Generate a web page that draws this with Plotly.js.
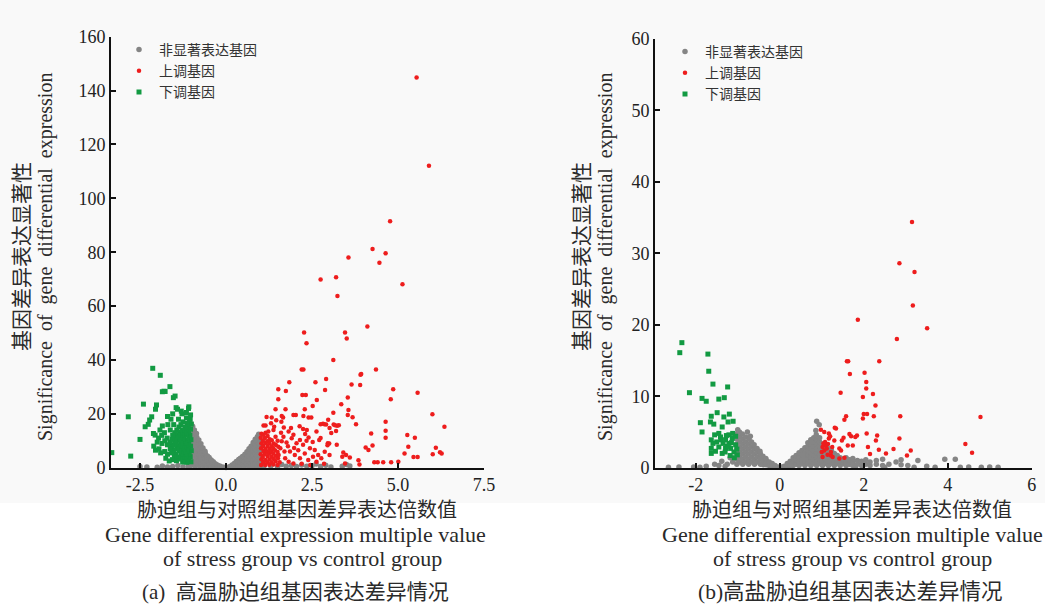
<!DOCTYPE html>
<html><head><meta charset="utf-8">
<script src="https://cdn.plot.ly/plotly-3.0.1.min.js"></script>
<style>html,body{margin:0;padding:0;background:#fff}</style>
</head><body><div id="chart" style="width:1045px;height:605px"></div>
<script>
// ---------- data ----------
const legendNames = ['非显著表达基因', '上调基因', '下调基因'];

// Panel (a): high temperature stress
const grayA = [
[-1.02,0.8],[-1.02,2.8],[-1.03,4.8],[-1.01,6.8],[-1.02,8.8],[-1.03,10.8],[-1.02,12.8],[-1.01,14.8],[-1.01,16.3],
[-0.96,1.8],[-0.97,3.8],[-0.95,5.8],[-0.96,7.8],[-0.97,9.8],[-0.96,11.8],[-0.95,13.8],[-0.97,15.4],
[-0.90,0.6],[-0.91,2.6],[-0.89,4.6],[-0.90,6.6],[-0.91,8.6],[-0.90,10.6],[-0.91,12.6],[-0.92,14.0],
[-0.84,1.5],[-0.85,3.5],[-0.83,5.5],[-0.84,7.5],[-0.85,9.5],[-0.85,11.3],[-0.86,12.7],
[-0.78,0.7],[-0.79,2.7],[-0.77,4.7],[-0.78,6.7],[-0.78,8.7],[-0.79,10.3],
[-0.72,1.6],[-0.73,3.6],[-0.71,5.6],[-0.72,7.6],[-0.73,8.9],
[-0.66,0.6],[-0.67,2.6],[-0.65,4.6],[-0.66,6.3],[-0.67,7.3],
[-0.60,1.5],[-0.61,3.5],[-0.60,5.2],[-0.61,6.1],
[-0.54,0.6],[-0.55,2.6],[-0.54,4.3],
[-0.48,1.4],[-0.49,3.1],[-0.49,3.8],
[-0.42,0.5],[-0.43,2.1],[-0.43,2.9],
[-0.36,1.2],[-0.37,2.2],[-0.30,0.5],[-0.31,1.5],[-0.24,0.3],[-0.25,1.0],
[-0.18,0.6],[-0.12,0.3],[-0.06,0.2],[0.0,0.1],
[0.06,0.2],[0.12,0.4],[0.18,0.3],[0.18,1.0],[0.24,0.6],[0.24,1.6],[0.30,0.4],[0.30,1.5],[0.30,2.3],
[0.36,0.9],[0.36,2.2],[0.37,3.0],[0.42,0.5],[0.42,2.0],[0.42,3.5],
[0.48,1.2],[0.48,2.8],[0.48,4.2],[0.54,0.6],[0.54,2.4],[0.54,4.0],[0.55,5.0],
[0.60,1.5],[0.60,3.3],[0.60,5.0],[0.61,5.9],
[0.66,0.6],[0.66,2.5],[0.66,4.4],[0.66,6.2],[0.67,7.0],
[0.72,1.5],[0.72,3.4],[0.72,5.3],[0.72,7.1],[0.73,8.0],
[0.78,0.6],[0.78,2.5],[0.78,4.4],[0.78,6.3],[0.78,8.2],[0.79,9.4],
[0.84,1.5],[0.84,3.4],[0.84,5.3],[0.84,7.2],[0.84,9.1],[0.85,10.6],
[0.90,0.6],[0.90,2.5],[0.90,4.4],[0.90,6.3],[0.90,8.2],[0.90,10.1],[0.91,11.5],
[0.96,1.5],[0.96,3.4],[0.96,5.3],[0.96,7.2],[0.96,9.1],[0.96,11.0],[0.95,12.4],
[1.00,0.6],[1.00,2.5],[1.00,4.4],[1.00,6.3],[1.00,8.2],[1.00,10.1],[0.99,12.0],
[1.10,0.4],[1.30,0.6],[1.50,0.3],[1.62,1.2],[1.75,0.5],[1.90,0.8],[2.05,0.4],[2.20,1.0],[2.35,0.5],
[2.50,0.7],[2.62,1.4],[2.75,0.4],[2.90,0.9],[3.05,0.3],[3.38,0.5],[3.50,1.2],[3.60,0.6],
[-1.10,0.5],[-1.25,0.3],[-1.40,0.8],[-1.55,0.4],[-1.70,0.3],[-1.85,0.6],[-2.00,0.2],[-2.30,0.3],[-2.50,0.4]
];
const redA = [
[1.02,1.0],[1.03,3.1],[1.01,5.0],[1.02,7.2],[1.03,9.0],[1.01,11.1],[1.03,12.6],
[1.08,2.1],[1.07,4.0],[1.09,6.2],[1.08,8.1],[1.07,10.0],[1.09,12.2],
[1.14,1.0],[1.15,2.9],[1.13,5.1],[1.15,7.0],[1.14,9.2],[1.13,11.0],[1.15,13.0],
[1.20,2.0],[1.21,4.2],[1.19,6.0],[1.21,8.1],[1.20,9.8],[1.21,11.8],
[1.26,1.1],[1.27,3.0],[1.25,5.2],[1.27,6.9],[1.26,9.1],[1.27,10.6],
[1.32,2.0],[1.33,4.1],[1.31,6.1],[1.33,8.0],[1.33,10.2],
[1.38,1.2],[1.39,3.2],[1.37,5.3],[1.38,7.1],[1.39,9.0],
[1.44,2.4],[1.45,4.4],[1.43,6.4],[1.45,8.4],[1.44,11.5],
[1.50,1.0],[1.51,3.5],[1.50,5.8],[1.52,7.8],[1.50,10.0],
[1.58,7.2],[1.53,4.7],[1.56,2.0],[1.62,9.8],[1.67,11.5],[1.72,3.5],[1.76,9.4],[1.70,6.0],[1.82,2.2],
[1.86,6.0],[1.91,10.9],[1.80,8.0],[1.96,1.6],[2.00,4.7],[2.05,9.1],[1.98,7.3],[2.10,6.5],[2.15,10.3],
[2.15,3.5],[2.24,8.5],[2.29,5.3],[2.20,1.5],[2.34,10.0],[2.39,2.9],[2.44,7.2],[2.40,11.2],[2.53,4.1],
[2.58,6.6],[2.52,9.5],[2.63,2.2],[2.68,4.7],[2.77,3.5],[2.87,5.9],[2.96,9.1],[3.01,4.7],[3.22,8.5],
[3.01,14.7],[2.63,13.4],[1.82,13.4],[1.96,12.2],[1.23,13.4],[1.38,14.0],[3.06,12.9],[2.30,12.5],
[1.60,13.0],[2.75,11.0],[2.85,1.5],[2.45,1.0],
[1.18,18.8],[1.33,18.6],[1.46,17.6],[1.66,18.6],[1.61,17.1],[2.97,17.8],[1.31,16.5],[1.40,15.2],
[1.09,15.7],[1.15,15.7],[1.68,14.9],[1.89,14.7],[2.14,15.4],[2.24,14.4],[2.35,14.0],[2.82,16.3],
[2.91,16.0],[3.13,16.0],[3.23,15.6],
[5.54,144.9],[5.90,112.1],[4.77,91.5],[4.26,81.2],[4.64,79.6],[4.46,76.1],[3.56,78.0],[2.75,69.9],
[3.20,70.7],[3.24,63.7],[5.13,68.1],[4.11,52.4],[2.27,50.2],[2.34,46.2],[3.46,50.2],[3.51,48.0],
[3.12,40.0],[2.20,36.5],[2.25,36.5],[4.36,36.5],[3.91,34.5],[3.93,34.8],[2.60,31.7],[2.91,32.9],
[1.84,31.7],[3.65,30.9],[3.90,30.7],[1.52,29.1],[1.74,28.5],[2.88,28.8],[4.86,29.1],[5.57,27.8],
[2.22,27.0],[2.32,27.0],[3.54,26.1],[1.52,25.4],[2.64,25.1],[4.79,25.4],[2.52,22.9],[2.29,21.7],
[1.73,21.7],[1.44,21.7],[3.56,21.4],[3.35,23.6],[3.12,20.4],[3.54,19.6],[3.68,18.7],[1.96,19.6],
[2.03,19.6],[1.62,19.2],[2.25,19.2],[2.40,18.6],[2.48,18.6],[6.00,19.8],[4.64,17.1],[3.78,16.1],
[2.75,16.1],[2.86,16.1],[3.17,15.8],[3.28,15.8],[6.35,15.2],[3.20,13.6],[4.22,12.7],[4.64,13.7],
[5.27,12.1],[5.49,11.1],[4.64,11.1],[2.71,10.3],[3.00,9.0],[2.95,8.3],[4.26,8.2],[5.30,7.8],
[4.06,7.5],[6.10,7.4],[4.14,6.6],[3.41,5.6],[3.49,4.7],[5.19,5.3],[6.01,5.0],[6.22,5.7],[6.27,5.3],
[3.38,4.1],[3.60,3.8],[5.45,4.0],[5.57,4.0],[3.85,2.8],[3.88,1.2],[4.31,2.0],[4.41,2.0],[4.57,2.0],
[4.80,2.0],[5.01,2.2],[3.46,1.6]
];
const greenA = [
[-1.02,2.2],[-1.04,4.1],[-1.01,6.3],[-1.03,8.0],[-1.02,10.4],[-1.05,12.1],[-1.03,14.3],[-1.01,16.2],[-1.04,18.1],[-1.03,19.6],
[-1.09,3.1],[-1.07,5.2],[-1.10,7.1],[-1.08,9.3],[-1.06,11.0],[-1.09,13.2],[-1.10,15.1],[-1.07,17.0],
[-1.14,2.0],[-1.16,4.3],[-1.13,6.1],[-1.15,8.4],[-1.12,10.2],[-1.16,12.0],[-1.15,14.2],[-1.13,16.4],[-1.15,18.5],
[-1.21,3.3],[-1.19,5.0],[-1.22,7.2],[-1.20,9.1],[-1.23,11.3],[-1.21,13.0],[-1.19,15.0],
[-1.26,2.1],[-1.28,4.4],[-1.25,6.0],[-1.27,8.2],[-1.26,10.5],[-1.29,12.3],[-1.27,14.0],[-1.25,17.0],[-1.28,20.0],
[-1.33,3.2],[-1.31,5.1],[-1.34,7.3],[-1.32,9.0],[-1.33,11.2],[-1.35,13.1],[-1.31,16.0],
[-1.39,4.0],[-1.37,6.2],[-1.40,8.1],[-1.38,10.3],[-1.39,12.0],[-1.37,15.1],[-1.38,18.0],
[-1.44,2.6],[-1.46,5.0],[-1.43,7.1],[-1.45,9.0],[-1.44,11.3],[-1.43,14.0],
[-1.50,4.0],[-1.52,6.5],[-1.51,8.5],[-1.49,10.1],[-1.49,13.0],[-1.52,16.0],
[-1.56,3.0],[-1.58,5.5],[-1.57,8.0],[-1.56,10.5],[-1.55,12.0],
[-1.62,7.0],[-1.63,9.5],[-1.62,14.0],[-1.70,5.0],[-1.70,8.5],[-1.71,11.0],[-1.69,16.0],
[-1.78,6.0],[-1.78,10.0],[-1.79,13.0],[-1.86,9.0],[-1.87,12.0],[-1.95,7.0],[-1.96,11.0],
[-2.13,36.9],[-1.91,34.3],[-1.85,28.2],[-1.80,28.4],[-1.77,28.3],[-1.63,30.1],[-1.53,26.0],[-1.48,26.6],
[-2.40,23.6],[-2.02,23.3],[-2.05,21.7],[-1.45,22.3],[-1.41,21.7],[-1.08,22.6],[-1.09,22.0],[-2.84,18.9],
[-2.16,18.9],[-2.22,17.7],[-2.26,16.1],[-2.35,15.2],[-2.50,10.5],[-2.77,4.3],[-3.32,5.6],[-2.11,12.7],
[-2.06,12.1],[-1.92,14.0],[-2.00,9.5],[-1.90,5.5],[-1.75,3.5],[-1.65,2.5],[-2.05,6.5],[-1.70,19.0],
[-1.60,18.0],[-1.30,21.0],[-1.15,20.5],[-1.55,20.0],[-2.10,8.0],[-1.85,15.5]
];

// Panel (b): high salinity stress
const grayB = [
[-1.02,0.5],[-1.02,1.2],[-1.02,1.9],[-1.02,2.6],[-1.02,3.3],[-1.02,4.0],[-1.02,4.7],[-1.00,5.3],
[-0.95,0.8],[-0.95,1.5],[-0.95,2.2],[-0.95,2.9],[-0.95,3.6],[-0.95,4.3],[-0.96,5.0],
[-0.88,0.5],[-0.88,1.2],[-0.88,1.9],[-0.88,2.6],[-0.88,3.3],[-0.88,4.0],[-0.89,4.7],
[-0.81,0.8],[-0.81,1.5],[-0.81,2.2],[-0.81,2.9],[-0.81,3.6],[-0.81,4.3],[-0.77,5.0],
[-0.74,0.5],[-0.74,1.2],[-0.74,1.9],[-0.74,2.6],[-0.74,3.3],[-0.73,4.0],[-0.70,4.4],
[-0.67,0.8],[-0.67,1.5],[-0.67,2.2],[-0.67,2.9],[-0.67,3.6],
[-0.60,0.5],[-0.60,1.2],[-0.60,1.9],[-0.60,2.6],[-0.61,3.2],
[-0.53,0.8],[-0.53,1.5],[-0.53,2.2],[-0.54,2.7],
[-0.46,0.5],[-0.46,1.2],[-0.46,1.9],[-0.47,2.3],
[-0.39,0.4],[-0.39,1.0],[-0.40,1.6],[-0.32,0.4],[-0.32,1.0],[-0.33,1.3],
[-0.25,0.3],[-0.25,0.8],[-0.18,0.2],[-0.18,0.6],[-0.11,0.3],[-0.04,0.1],
[-1.12,0.8],[-1.25,0.5],[-1.38,0.9],[-1.45,0.3],[-1.18,1.4],[-1.55,0.5],[-1.75,0.2],[-2.05,0.1],
[-2.40,0.1],[-2.65,0.05],[-1.90,0.05],[-1.30,0.2],
[0.04,0.1],[0.11,0.2],[0.18,0.2],[0.18,0.6],[0.25,0.3],[0.25,0.9],[0.32,0.3],[0.32,0.9],[0.32,1.4],
[0.39,0.5],[0.39,1.1],[0.39,1.7],[0.46,0.3],[0.46,0.9],[0.46,1.5],[0.46,2.1],
[0.53,0.6],[0.53,1.2],[0.53,1.8],[0.53,2.4],[0.60,0.3],[0.60,0.9],[0.60,1.5],[0.60,2.1],[0.60,2.8],
[0.67,0.6],[0.67,1.2],[0.67,1.8],[0.67,2.4],[0.67,3.0],[0.67,3.5],
[0.74,0.3],[0.74,0.9],[0.74,1.5],[0.74,2.1],[0.74,2.7],[0.74,3.3],[0.74,3.9],
[0.81,0.6],[0.81,1.2],[0.81,1.8],[0.81,2.4],[0.81,3.0],[0.81,3.6],[0.81,4.2],
[0.88,0.3],[0.88,0.9],[0.88,1.5],[0.88,2.1],[0.88,2.7],[0.88,3.3],[0.88,3.9],[0.87,4.6],[0.86,5.2],[0.88,6.5],
[0.95,0.6],[0.95,1.2],[0.95,1.8],[0.95,2.4],[0.95,3.0],[0.95,3.6],[0.95,4.2],[0.94,6.0],
[1.02,0.3],[1.02,0.9],[1.02,1.5],[1.02,2.1],[1.02,2.7],[1.02,3.3],
[1.09,0.6],[1.09,1.2],[1.09,1.8],[1.09,2.4],[1.09,3.0],
[1.16,0.3],[1.16,0.9],[1.16,1.5],[1.16,2.1],[1.16,2.7],
[1.23,0.6],[1.23,1.2],[1.23,1.8],[1.23,2.4],[1.30,0.3],[1.30,0.9],[1.30,1.5],[1.30,2.0],
[1.37,0.6],[1.37,1.2],[1.37,1.7],[1.44,0.3],[1.44,0.9],[1.44,1.4],[1.51,0.6],[1.51,1.1],
[1.58,0.3],[1.58,0.9],[1.58,1.4],[1.66,0.5],[1.66,1.1],[1.74,0.3],[1.74,0.8],[1.74,1.3],
[1.85,0.5],[1.85,1.0],[1.95,0.3],[1.95,0.9],[2.05,0.5],[2.05,1.1],[2.15,0.3],[2.15,0.8],
[2.30,0.5],[2.30,1.0],[2.45,0.3],[2.45,1.2],[2.60,0.5],[2.77,0.8],[2.89,0.4],[2.89,1.1],
[3.05,0.3],[3.29,1.0],[3.50,0.2],[3.93,1.2],[4.18,1.2],[4.50,0.1],[5.00,0.1],
[1.80,0.05],[2.50,0.05],[3.20,0.05],[3.70,0.05],[4.30,0.05],[4.80,0.05],[5.20,0.05]
];
const redB = [
[3.15,34.4],[2.85,28.6],[3.21,27.4],[3.17,22.7],[1.86,20.7],[3.51,19.5],[2.79,18.0],[1.60,14.9],
[1.63,14.9],[2.37,14.9],[1.67,13.1],[2.02,13.3],[2.06,12.0],[2.06,11.1],[1.45,10.5],[2.22,10.3],
[1.98,9.9],[2.28,8.7],[2.00,7.5],[2.08,7.5],[1.98,6.9],[2.24,7.2],[2.87,7.2],[4.78,7.1],[1.58,7.2],
[1.54,6.7],[1.31,5.6],[2.07,4.8],[2.32,4.5],[1.66,4.7],[1.70,4.4],[1.80,4.3],[1.84,4.5],[1.52,4.2],
[1.48,3.8],[2.85,4.1],[2.29,3.8],[1.62,3.1],[1.74,3.1],[2.10,2.9],[2.36,2.5],[2.71,2.6],[3.12,2.4],
[4.42,3.3],[4.58,2.1],[2.15,1.9],[2.53,2.0],[3.03,1.7],[1.42,2.7],[1.46,2.4],[1.22,1.7],[1.26,1.5],
[1.54,1.4],
[1.02,2.9],[1.00,2.2],[1.10,3.1],[1.06,2.4],[1.02,1.5],[1.14,1.8],[1.22,2.2],[0.98,5.3],[1.06,5.0],
[1.17,4.8],[1.17,4.1],[1.30,3.8],[1.42,1.3],[1.34,5.5],[1.08,3.6],[1.12,2.7],[1.04,3.4],[1.15,3.3],
[1.25,2.9],[1.20,4.4]
];
const greenB = [
[-2.33,17.5],[-2.38,16.1],[-1.71,15.9],[-1.69,13.5],[-2.15,10.5],[-1.59,11.7],[-1.24,11.3],[-1.85,9.7],
[-1.75,9.3],[-1.45,9.6],[-1.32,9.8],[-1.89,6.3],[-1.85,5.0],[-1.63,7.2],[-1.49,7.7],[-1.65,6.4],
[-1.57,6.1],[-1.33,7.1],[-1.20,7.5],[-1.11,6.5],[-1.23,6.4],[-1.37,5.7],[-1.63,3.9],[-1.59,3.4],
[-1.63,2.7],[-1.63,2.0],[-1.45,4.8],[-1.41,4.3],
[-1.29,3.9],[-1.21,3.4],[-1.13,4.1],[-1.05,3.2],[-1.17,2.7],[-1.09,2.2],[-1.29,2.7],[-1.01,1.8],
[-1.37,2.0],[-1.21,4.6],[-1.12,4.8],[-1.05,4.4],[-1.15,3.5],[-1.25,3.0],[-1.35,3.4],[-1.50,3.6],
[-1.45,2.9],[-1.53,2.3],[-1.30,2.2],[-1.02,2.6],[-1.08,1.4],[-1.18,1.7],[-1.40,3.9],[-1.55,4.6],[-1.27,4.5]
];

// axes
const yTicksA = [0,20,40,60,80,100,120,140,160];
const xTicksA = [-2.5,0,2.5,5,7.5];
const xTickTextA = ['-2.5','0.0','2.5','5.0','7.5'];
const yTicksB = [0,10,20,30,40,50,60];
const xTicksB = [-2,0,2,4,6];
const xTickTextB = ['-2','0','2','4','6'];

// texts
const yTitleZh = '基因差异表达显著性';
const yTitleEn = 'Significance\u00a0\u00a0of\u00a0\u00a0gene\u00a0\u00a0differential\u00a0\u00a0expression';
const xTitleZh = '胁迫组与对照组基因差异表达倍数值';
const xTitleEn1 = 'Gene differential expression multiple value';
const xTitleEn2 = 'of stress group vs control group';
const captionA = '(a)\u00a0\u00a0高温胁迫组基因表达差异情况';
const captionB = '(b)高盐胁迫组基因表达差异情况';

// ---------- build ----------
const W = 1045, H = 605;
const xs = a => a.map(p => p[0]);
const ys = a => a.map(p => p[1]);
const cGray = '#858585', cRed = '#ee1d1d', cGreen = '#129a42';

function traces(g, r, gr, xa, ya, leg) {
  const base = {type:'scatter', mode:'markers', xaxis:xa, yaxis:ya, legend:leg, cliponaxis:false, hoverinfo:'skip'};
  return [
    Object.assign({}, base, {name:legendNames[0], x:xs(g), y:ys(g), marker:{color:cGray, size:5.5, symbol:'circle'}}),
    Object.assign({}, base, {name:legendNames[1], x:xs(r), y:ys(r), marker:{color:cRed, size:4.5, symbol:'circle'}}),
    Object.assign({}, base, {name:legendNames[2], x:xs(gr), y:ys(gr), marker:{color:cGreen, size:5, symbol:'square'}})
  ];
}
const data = [].concat(
  traces(grayA, redA, greenA, 'x', 'y', 'legend'),
  traces(grayB, redB, greenB, 'x2', 'y2', 'legend2')
);

const tickFont = {family:'Liberation Serif, serif', size:18, color:'#222'};
const axBase = {showline:true, linecolor:'#111', linewidth:2, ticks:'inside', ticklen:5, tickwidth:2,
  tickcolor:'#111', showgrid:false, zeroline:false, tickfont:tickFont, fixedrange:true, tickmode:'array'};
const txtFont = {family:'Liberation Serif, Noto Sans CJK SC, serif', size:20, color:'#2a2a2a'};
const xEnFont = {family:'Liberation Serif, serif', size:22, color:'#2a2a2a'};
const capFontA = {family:'Liberation Serif, Noto Sans CJK SC, serif', size:21, color:'#2a2a2a'};
const capFontB = {family:'Liberation Serif, Noto Sans CJK SC, serif', size:21.5, color:'#2a2a2a'};
const zhFont = {family:'Noto Sans CJK SC, sans-serif', size:20, color:'#2a2a2a'};
const zhYFont = {family:'Noto Sans CJK SC, sans-serif', size:21, color:'#2a2a2a'};

function ann(text, px, py, font, angle) {
  return {text:text, xref:'paper', yref:'paper', x:px/W, y:1-py/H, xanchor:'center', yanchor:'middle',
    showarrow:false, font:font, textangle:angle||0};
}
const legFont = {family:'Noto Sans CJK SC, sans-serif', size:14, color:'#333'};

const layout = {
  width:W, height:H, margin:{l:0,r:0,t:0,b:0},
  paper_bgcolor:'#f9f9f9', plot_bgcolor:'rgba(0,0,0,0)', showlegend:true,
  xaxis:Object.assign({}, axBase, {domain:[111/W, 484/W], range:[-3.343,7.5], tickvals:xTicksA, ticktext:xTickTextA, anchor:'y'}),
  yaxis:Object.assign({}, axBase, {domain:[1-467.7/H, 1-36.7/H], range:[0,160], tickvals:yTicksA, ticktext:yTicksA.map(String), anchor:'x'}),
  xaxis2:Object.assign({}, axBase, {domain:[655/W, 1031.7/W], range:[-2.97,6], tickvals:xTicksB, ticktext:xTickTextB, anchor:'y2'}),
  yaxis2:Object.assign({}, axBase, {domain:[1-467.7/H, 1-39/H], range:[0,60], tickvals:yTicksB, ticktext:yTicksB.map(String), anchor:'x2'}),
  legend:{x:119/W, y:1-34/H, xanchor:'left', yanchor:'top', bgcolor:'rgba(0,0,0,0)', font:legFont, tracegroupgap:0},
  legend2:{x:665/W, y:1-36/H, xanchor:'left', yanchor:'top', bgcolor:'rgba(0,0,0,0)', font:legFont, tracegroupgap:0},
  shapes:[{type:'rect', xref:'paper', yref:'paper', x0:0, x1:1, y0:0, y1:(H-503)/H, fillcolor:'#ffffff', line:{width:0}, layer:'below'}],
  annotations:[
    ann(yTitleZh, 20, 257, zhYFont, -90),
    ann(yTitleEn, 45, 257, txtFont, -90),
    ann(yTitleZh, 580, 257, zhYFont, -90),
    ann(yTitleEn, 605, 257, txtFont, -90),
    ann(xTitleZh, 297, 508, zhFont),
    ann(xTitleEn1, 295, 534, xEnFont),
    ann(xTitleEn2, 302, 558, xEnFont),
    ann(captionA, 295, 592, capFontA),
    ann(xTitleZh, 852, 508, zhFont),
    ann(xTitleEn1, 852, 534, xEnFont),
    ann(xTitleEn2, 852, 558, xEnFont),
    ann(captionB, 850, 592, capFontB)
  ]
};
Plotly.newPlot('chart', data, layout, {staticPlot:true, displayModeBar:false});
</script></body></html>
